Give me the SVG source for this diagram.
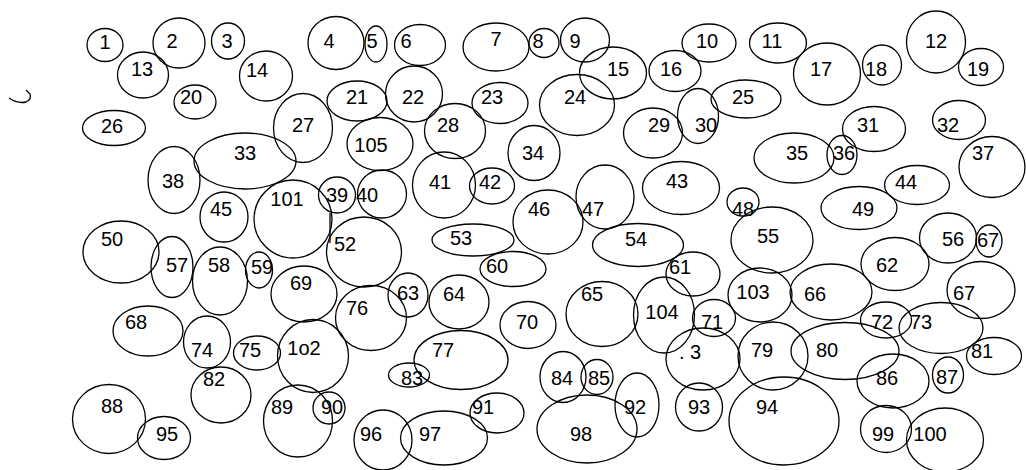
<svg xmlns="http://www.w3.org/2000/svg" width="1026" height="470" viewBox="0 0 1026 470">
<style>
ellipse{fill:none;stroke:#000;stroke-width:1.3}
text{font-family:"Liberation Sans",Arial,sans-serif;font-size:20px;fill:#000;text-anchor:middle;dominant-baseline:central}
.ln{fill:none;stroke:#000;stroke-width:1.3}
</style>
<rect width="1026" height="470" fill="#fff"/>
<g id="connectors">
<path class="ln" d="M9 98 Q18 104 26 102 Q32 99 30 94 L26 90"/>
<line class="ln" x1="330" y1="213" x2="330" y2="243"/>
</g>
<g id="n1"><ellipse cx="105" cy="45" rx="18" ry="16.5"/><text x="105" y="42">1</text></g>
<g id="n2"><ellipse cx="179" cy="43" rx="26" ry="25"/><text x="172" y="41">2</text></g>
<g id="n3"><ellipse cx="228" cy="41" rx="16.5" ry="18"/><text x="227" y="41">3</text></g>
<g id="n4"><ellipse cx="336" cy="43" rx="28" ry="26.5"/><text x="329" y="41">4</text></g>
<g id="n5"><ellipse cx="376" cy="44" rx="11" ry="18"/><text x="372" y="41">5</text></g>
<g id="n6"><ellipse cx="420" cy="45" rx="25.5" ry="20.5"/><text x="406" y="41">6</text></g>
<g id="n7"><ellipse cx="496" cy="47" rx="33" ry="24"/><text x="496" y="39">7</text></g>
<g id="n8"><ellipse cx="544" cy="43" rx="15" ry="14.5"/><text x="538" y="41">8</text></g>
<g id="n9"><ellipse cx="585" cy="40" rx="24.5" ry="22"/><text x="575" y="41">9</text></g>
<g id="n10"><ellipse cx="709" cy="43" rx="27" ry="19"/><text x="707" y="41">10</text></g>
<g id="n11"><ellipse cx="778" cy="43" rx="28.5" ry="20"/><text x="772" y="41">11</text></g>
<g id="n12"><ellipse cx="936" cy="42" rx="29.5" ry="31"/><text x="936" y="41">12</text></g>
<g id="n13"><ellipse cx="143" cy="75" rx="25.5" ry="23"/><text x="142" y="69">13</text></g>
<g id="n14"><ellipse cx="266" cy="76" rx="26.5" ry="25"/><text x="257" y="70">14</text></g>
<g id="n15"><ellipse cx="613" cy="73" rx="33.5" ry="26"/><text x="618" y="69">15</text></g>
<g id="n16"><ellipse cx="675" cy="71" rx="26" ry="20.5"/><text x="671" y="69">16</text></g>
<g id="n17"><ellipse cx="827" cy="74" rx="33.5" ry="31"/><text x="821" y="69">17</text></g>
<g id="n18"><ellipse cx="882" cy="65" rx="19.5" ry="20"/><text x="876" y="69">18</text></g>
<g id="n19"><ellipse cx="981" cy="67" rx="22.5" ry="18.5"/><text x="978" y="69">19</text></g>
<g id="n20"><ellipse cx="195" cy="102" rx="21" ry="17"/><text x="191" y="97">20</text></g>
<g id="n21"><ellipse cx="357" cy="101" rx="30" ry="20"/><text x="357" y="97">21</text></g>
<g id="n22"><ellipse cx="414" cy="94" rx="28.5" ry="28"/><text x="413" y="97">22</text></g>
<g id="n23"><ellipse cx="500" cy="103" rx="28" ry="20.5"/><text x="492" y="97">23</text></g>
<g id="n24"><ellipse cx="577" cy="105" rx="37.5" ry="30.5"/><text x="575" y="97">24</text></g>
<g id="n25"><ellipse cx="746" cy="99" rx="35" ry="19"/><text x="743" y="97">25</text></g>
<g id="n26"><ellipse cx="114" cy="128" rx="31.5" ry="17.5"/><text x="112" y="126">26</text></g>
<g id="n27"><ellipse cx="303" cy="128" rx="29.5" ry="34.5"/><text x="303" y="125">27</text></g>
<g id="n28"><ellipse cx="455" cy="131" rx="30.5" ry="27.5"/><text x="448" y="125">28</text></g>
<g id="n29"><ellipse cx="653" cy="133" rx="29.5" ry="25"/><text x="659" y="125">29</text></g>
<g id="n30"><ellipse cx="698" cy="116" rx="20.5" ry="27.5"/><text x="706" y="125">30</text></g>
<g id="n31"><ellipse cx="874" cy="129" rx="31.5" ry="22.5"/><text x="868" y="125">31</text></g>
<g id="n32"><ellipse cx="959" cy="120" rx="26.5" ry="19.5"/><text x="948" y="125">32</text></g>
<g id="n33"><ellipse cx="245" cy="161" rx="51" ry="28"/><text x="245" y="153">33</text></g>
<g id="n34"><ellipse cx="534" cy="153" rx="26" ry="27.5"/><text x="533" y="153">34</text></g>
<g id="n35"><ellipse cx="794" cy="158" rx="40" ry="25"/><text x="797" y="153">35</text></g>
<g id="n36"><ellipse cx="842" cy="155" rx="15" ry="19.5"/><text x="844" y="153">36</text></g>
<g id="n37"><ellipse cx="992" cy="167" rx="33" ry="30.5"/><text x="983" y="153">37</text></g>
<g id="n38"><ellipse cx="174" cy="180" rx="26" ry="33.5"/><text x="173" y="181">38</text></g>
<g id="n39"><ellipse cx="337" cy="195" rx="18.5" ry="18"/><text x="337" y="195">39</text></g>
<g id="n40"><ellipse cx="382" cy="194" rx="24.5" ry="24"/><text x="367" y="195">40</text></g>
<g id="n41"><ellipse cx="444" cy="185" rx="31.5" ry="33"/><text x="440" y="182">41</text></g>
<g id="n42"><ellipse cx="492" cy="186" rx="22.5" ry="18"/><text x="490" y="182">42</text></g>
<g id="n43"><ellipse cx="681" cy="188" rx="38.5" ry="26.5"/><text x="677" y="181">43</text></g>
<g id="n44"><ellipse cx="917" cy="185" rx="32.5" ry="19.5"/><text x="906" y="182">44</text></g>
<g id="n45"><ellipse cx="224" cy="217" rx="24" ry="25"/><text x="221" y="209">45</text></g>
<g id="n46"><ellipse cx="548" cy="222" rx="35" ry="32"/><text x="539" y="209">46</text></g>
<g id="n47"><ellipse cx="605" cy="197" rx="29" ry="32"/><text x="593" y="209">47</text></g>
<g id="n48"><ellipse cx="743" cy="202" rx="16" ry="14"/><text x="743" y="209">48</text></g>
<g id="n49"><ellipse cx="859" cy="208" rx="38" ry="21.5"/><text x="863" y="209">49</text></g>
<g id="n50"><ellipse cx="121" cy="252" rx="38" ry="31"/><text x="112" y="239">50</text></g>
<g id="n52"><ellipse cx="364" cy="252" rx="37.5" ry="35"/><text x="345" y="244">52</text></g>
<g id="n53"><ellipse cx="473" cy="240" rx="41" ry="16"/><text x="461" y="238">53</text></g>
<g id="n54"><ellipse cx="638" cy="245" rx="45.5" ry="21.5"/><text x="636" y="239">54</text></g>
<g id="n55"><ellipse cx="772" cy="240" rx="41" ry="33"/><text x="768" y="236">55</text></g>
<g id="n56"><ellipse cx="948" cy="238" rx="28.5" ry="25"/><text x="953" y="239">56</text></g>
<g id="n67b"><ellipse cx="989" cy="241" rx="13" ry="16"/><text x="988" y="240">67</text></g>
<g id="n57"><ellipse cx="172" cy="267" rx="21" ry="30.5"/><text x="177" y="265">57</text></g>
<g id="n58"><ellipse cx="220" cy="281" rx="27.5" ry="34"/><text x="219" y="265">58</text></g>
<g id="n59"><ellipse cx="259" cy="270" rx="13.5" ry="18"/><text x="262" y="267">59</text></g>
<g id="n60"><ellipse cx="513" cy="269" rx="33" ry="17.5"/><text x="497" y="266">60</text></g>
<g id="n61"><ellipse cx="693" cy="274" rx="27" ry="22"/><text x="680" y="267">61</text></g>
<g id="n62"><ellipse cx="895" cy="264" rx="34" ry="26.5"/><text x="887" y="265">62</text></g>
<g id="n63"><ellipse cx="408" cy="295" rx="20" ry="22"/><text x="408" y="293">63</text></g>
<g id="n64"><ellipse cx="459" cy="302" rx="30" ry="27"/><text x="454" y="294">64</text></g>
<g id="n65"><ellipse cx="602" cy="314" rx="36" ry="32.5"/><text x="592" y="294">65</text></g>
<g id="n66"><ellipse cx="831" cy="292" rx="41" ry="28"/><text x="815" y="294">66</text></g>
<g id="n67"><ellipse cx="981" cy="290" rx="34" ry="28.5"/><text x="964" y="293">67</text></g>
<g id="n68"><ellipse cx="148" cy="331" rx="35" ry="25"/><text x="136" y="322">68</text></g>
<g id="n69"><ellipse cx="304" cy="294" rx="33" ry="28"/><text x="301" y="283">69</text></g>
<g id="n70"><ellipse cx="528" cy="325" rx="28" ry="23.5"/><text x="527" y="322">70</text></g>
<g id="n71"><ellipse cx="714" cy="318" rx="21.5" ry="18.5"/><text x="712" y="322">71</text></g>
<g id="n72"><ellipse cx="886" cy="320" rx="25.5" ry="18"/><text x="882" y="322">72</text></g>
<g id="n73"><ellipse cx="941" cy="328" rx="42" ry="25.5"/><text x="921" y="322">73</text></g>
<g id="n74"><ellipse cx="207" cy="342" rx="23.5" ry="26"/><text x="202" y="350">74</text></g>
<g id="n75"><ellipse cx="257" cy="353" rx="23.5" ry="17"/><text x="250" y="350">75</text></g>
<g id="n76"><ellipse cx="371" cy="318" rx="35.5" ry="32.5"/><text x="357" y="308">76</text></g>
<g id="n77"><ellipse cx="461" cy="360" rx="47" ry="29.5"/><text x="443" y="350">77</text></g>
<g id="n78"><ellipse cx="703" cy="359" rx="37" ry="31"/><text x="690" y="352">. 3</text></g>
<g id="n79"><ellipse cx="773" cy="356" rx="35" ry="34"/><text x="762" y="350">79</text></g>
<g id="n80"><ellipse cx="845" cy="351" rx="54" ry="28.5"/><text x="827" y="350">80</text></g>
<g id="n81"><ellipse cx="994" cy="356" rx="27.5" ry="18.5"/><text x="982" y="351">81</text></g>
<g id="n82"><ellipse cx="221" cy="395" rx="30" ry="28"/><text x="214" y="379">82</text></g>
<g id="n83"><ellipse cx="409" cy="375" rx="20.5" ry="12"/><text x="412" y="378">83</text></g>
<g id="n84"><ellipse cx="563" cy="377" rx="23" ry="25.5"/><text x="562" y="378">84</text></g>
<g id="n85"><ellipse cx="597" cy="377" rx="16" ry="17.5"/><text x="599" y="378">85</text></g>
<g id="n86"><ellipse cx="893" cy="381" rx="36" ry="27"/><text x="887" y="378">86</text></g>
<g id="n87"><ellipse cx="948" cy="375" rx="15.5" ry="18"/><text x="947" y="377">87</text></g>
<g id="n88"><ellipse cx="109" cy="419" rx="36.5" ry="34.5"/><text x="112" y="406">88</text></g>
<g id="n89"><ellipse cx="298" cy="421" rx="34.5" ry="36"/><text x="282" y="407">89</text></g>
<g id="n90"><ellipse cx="329" cy="408" rx="16" ry="16"/><text x="332" y="407">90</text></g>
<g id="n91"><ellipse cx="497" cy="413" rx="27" ry="20"/><text x="483" y="407">91</text></g>
<g id="n92"><ellipse cx="637" cy="405" rx="22" ry="32"/><text x="635" y="407">92</text></g>
<g id="n93"><ellipse cx="699" cy="407" rx="23.5" ry="24"/><text x="699" y="407">93</text></g>
<g id="n94"><ellipse cx="784" cy="421" rx="55" ry="44"/><text x="767" y="407">94</text></g>
<g id="n95"><ellipse cx="164" cy="438" rx="26.5" ry="21.5"/><text x="167" y="434">95</text></g>
<g id="n96"><ellipse cx="383" cy="440" rx="29" ry="30"/><text x="371" y="434">96</text></g>
<g id="n97"><ellipse cx="444" cy="438" rx="43.5" ry="27"/><text x="430" y="434">97</text></g>
<g id="n98"><ellipse cx="587" cy="429" rx="50" ry="34"/><text x="581" y="434">98</text></g>
<g id="n99"><ellipse cx="886" cy="429" rx="25.5" ry="23.5"/><text x="883" y="434">99</text></g>
<g id="n100"><ellipse cx="945" cy="440" rx="38.5" ry="32"/><text x="930" y="434">100</text></g>
<g id="n101"><ellipse cx="293" cy="219" rx="39" ry="39"/><text x="287" y="199">101</text></g>
<g id="n102"><ellipse cx="313" cy="356" rx="35.5" ry="36.5"/><text x="304" y="348">1o2</text></g>
<g id="n103"><ellipse cx="760" cy="295" rx="32" ry="27"/><text x="753" y="292">103</text></g>
<g id="n104"><ellipse cx="664" cy="315" rx="30.5" ry="38"/><text x="662" y="312">104</text></g>
<g id="n105"><ellipse cx="380" cy="144" rx="33" ry="26.5"/><text x="371" y="145">105</text></g>
</svg>
